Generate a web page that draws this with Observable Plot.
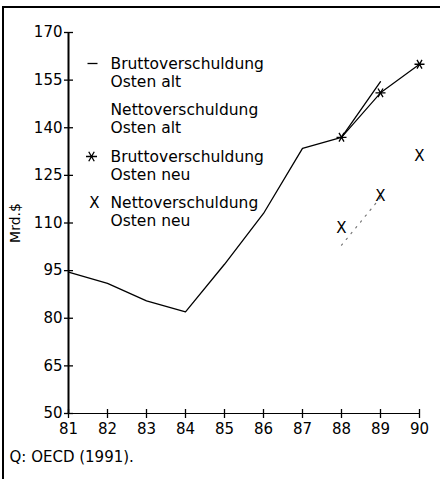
<!DOCTYPE html>
<html><head><meta charset="utf-8">
<script src="https://cdn.jsdelivr.net/npm/d3@7"></script>
<script src="https://cdn.jsdelivr.net/npm/@observablehq/plot@0.6"></script>
<style>
html,body{margin:0;padding:0;background:#fff;}
#wrap{position:relative;width:440px;height:479px;overflow:hidden;}
#chart{position:absolute;left:0;top:0;}
#frame{position:absolute;left:2px;top:6px;right:-5px;bottom:-5px;border-left:2px solid #000;border-top:2px solid #000;pointer-events:none;}
</style></head><body>
<div id="wrap"><div id="chart"></div><div id="frame"></div></div>
<script>
// ---- data ----
const years = [81, 82, 83, 84, 85, 86, 87, 88, 89, 90];
const bruttoAltYears = [81, 82, 83, 84, 85, 86, 87, 88, 89];
const bruttoAlt = [94.5, 91, 85.5, 82, 97, 113, 133.5, 137, 154.5];
const nettoAltYears = [88, 89];
const nettoAlt = [103, 118];
const neuYears = [88, 89, 90];
const bruttoNeu = [137, 151, 160];
const nettoNeu = [108.5, 118.5, 131];
const yTicks = [50, 65, 80, 95, 110, 125, 140, 155, 170];
const legendLabels = ["Bruttoverschuldung\nOsten alt", "Nettoverschuldung\nOsten alt", "Bruttoverschuldung\nOsten neu", "Nettoverschuldung\nOsten neu"];
const legendSymbols = ["dash", "none", "star", "X"];
const caption = "Q: OECD (1991).";
const yLabel = "Mrd.$";

// ---- tables ----
const tbl = (xs, ys) => xs.map((x, i) => ({x, y: ys[i]}));
const bruttoAltData = tbl(bruttoAltYears, bruttoAlt);
const nettoAltData = tbl(nettoAltYears, nettoAlt);
const bruttoNeuData = tbl(neuYears, bruttoNeu);
const nettoNeuData = tbl(neuYears, nettoNeu);

// ---- symbols ----
const rad = s => Math.sqrt(s / Math.PI);
const hTick = {draw(c, s) { const r = rad(s); c.moveTo(-r, 0); c.lineTo(r, 0); }};
const vTick = {draw(c, s) { const r = rad(s); c.moveTo(0, -r); c.lineTo(0, r); }};
const star = {draw(c, s) {
  const r = rad(s);
  c.moveTo(-r, 0); c.lineTo(r, 0);
  const a = r * Math.cos(Math.PI / 3), b = r * Math.sin(Math.PI / 3);
  c.moveTo(-a, -b); c.lineTo(a, b);
  c.moveTo(-a, b); c.lineTo(a, -b);
}};

const FONT = "DejaVu Sans";
const legendMarks = [];
legendLabels.forEach((lab, i) => {
  const cy = 39.5 + 46.5 * i;
  const firstLine = cy - 8.5;
  legendMarks.push(Plot.text([lab], {text: d => d, frameAnchor: "top-left", dx: 42, dy: cy,
    textAnchor: "start", lineAnchor: "middle", lineHeight: 1.15, fontSize: 15.5, fill: "black"}));
  const sym = legendSymbols[i];
  if (sym === "dash") legendMarks.push(Plot.dot([0], {frameAnchor: "top-left", dx: 24, dy: firstLine, symbol: hTick, r: 5, stroke: "black", fill: "none", strokeWidth: 1.3}));
  if (sym === "star") legendMarks.push(Plot.dot([0], {frameAnchor: "top-left", dx: 23, dy: firstLine, symbol: star, r: 5.5, stroke: "black", fill: "none", strokeWidth: 1.3}));
  if (sym === "X") legendMarks.push(Plot.text(["X"], {text: d => d, frameAnchor: "top-left", dx: 26, dy: firstLine,
    textAnchor: "middle", lineAnchor: "middle", fontSize: 15, fill: "black"}));
});

const chart = Plot.plot({
  width: 440,
  height: 479,
  marginLeft: 68,
  marginRight: 21,
  marginTop: 32,
  marginBottom: 66,
  style: {fontFamily: FONT, background: "transparent", color: "black"},
  x: {domain: [years[0], years[years.length - 1]]},
  y: {domain: [yTicks[0], yTicks[yTicks.length - 1]]},
  marks: [
    Plot.axisY({ticks: yTicks, tickSize: 0, tickPadding: 6, fontSize: 15, label: null, fill: "black"}),
    Plot.axisX({ticks: years, tickSize: 0, tickPadding: 10, fontSize: 15, label: null, fill: "black", tickFormat: d => String(d)}),
    Plot.ruleX([years[0]], {y1: yTicks[0], y2: yTicks[yTicks.length - 1], strokeWidth: 2, stroke: "black"}),
    Plot.ruleY([yTicks[0]], {x1: years[0], x2: years[years.length - 1], strokeWidth: 1.2, stroke: "black"}),
    Plot.dot(yTicks, {x: () => years[0], y: d => d, symbol: hTick, r: 4.5, stroke: "black", fill: "none", strokeWidth: 1.3}),
    Plot.dot(years, {x: d => d, y: () => yTicks[0], symbol: vTick, r: 4.5, stroke: "black", fill: "none", strokeWidth: 1.3}),
    Plot.line(bruttoAltData, {x: "x", y: "y", stroke: "black", strokeWidth: 1.3}),
    Plot.line(nettoAltData, {x: "x", y: "y", stroke: "#777", strokeWidth: 1.2, strokeDasharray: "1.5 6"}),
    Plot.line(bruttoNeuData, {x: "x", y: "y", stroke: "black", strokeWidth: 1.2}),
    Plot.dot(bruttoNeuData, {x: "x", y: "y", symbol: star, r: 5, stroke: "black", fill: "none", strokeWidth: 1.3}),
    Plot.text(nettoNeuData, {x: "x", y: "y", text: () => "X", fontSize: 15, fill: "black"}),
    ...legendMarks,
    Plot.text([caption], {text: d => d, frameAnchor: "bottom-left", dx: -59, dy: 44, textAnchor: "start", lineAnchor: "middle", fontSize: 15, fill: "black"}),
    Plot.text([yLabel], {text: d => d, frameAnchor: "left", dx: -53, rotate: -90, textAnchor: "middle", lineAnchor: "middle", fontSize: 14, fill: "black"})
  ]
});
document.getElementById("chart").appendChild(chart);
</script>
</body></html>
